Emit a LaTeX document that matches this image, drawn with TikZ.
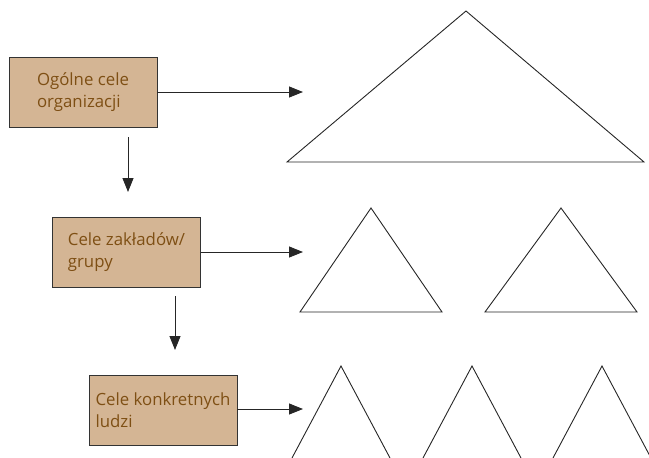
\documentclass[tikz,border=0pt]{standalone}
\usepackage{fontspec}
\setmainfont{Open Sans}
\usetikzlibrary{arrows.meta, positioning}
\definecolor{boxfill}{HTML}{D4B594}
\definecolor{boxtext}{HTML}{7E4F14}

\begin{document}
\begin{tikzpicture}[x=1pt, y=-1pt, line width=0.8pt,
    level/.style={draw=black!80, fill=boxfill, text=boxtext, minimum width=148pt,
        minimum height=70pt, align=left, font=\fontsize{16.8}{22}\selectfont},
    arr/.style={draw=black!85, -{Triangle[length=14pt, width=11pt]}},
    pyramid/.style={draw=black!85, line width=0.9pt}]
   \useasboundingbox (0,0) rectangle (649,458);

   % levels of goals
   \node[level] (org)   at (83,92)    {Ogólne cele\\organizacji};
   \node[level] (grupa) at (126.5,252) {Cele zakładów/\\grupy};
   \node[level] (ludzi) at (163,410.5) {Cele konkretnych\\ludzi};

   % arrow ends
   \coordinate (t1) at (303,92);
   \coordinate (t2) at (303,252);
   \coordinate (t3) at (303,409);
   \coordinate (d1) at (128,192);
   \coordinate (d2) at (175,350);

   \draw[arr] (org.east) -- (org.east -| t1);
   \draw[arr] (grupa.east) -- (grupa.east -| t2);
   \draw[arr] (ludzi.east |- t3) -- (t3);
   \draw[arr, shorten <=10pt] (org.south -| d1) -- (d1);
   \draw[arr, shorten <=9pt] (grupa.south -| d2) -- (d2);

   % pyramids
   \draw[pyramid] (287,162) -- (466,11) -- (644,162) -- cycle;
   \draw[pyramid] (300,312) -- (371,208) -- (442,312) -- cycle;
   \draw[pyramid] (485,312) -- (561,208) -- (637,312) -- cycle;
   \foreach \x in {341,472,602}
      \draw[pyramid] (\x-49,458) -- (\x,366) -- (\x+49,458);
\end{tikzpicture}
\end{document}
